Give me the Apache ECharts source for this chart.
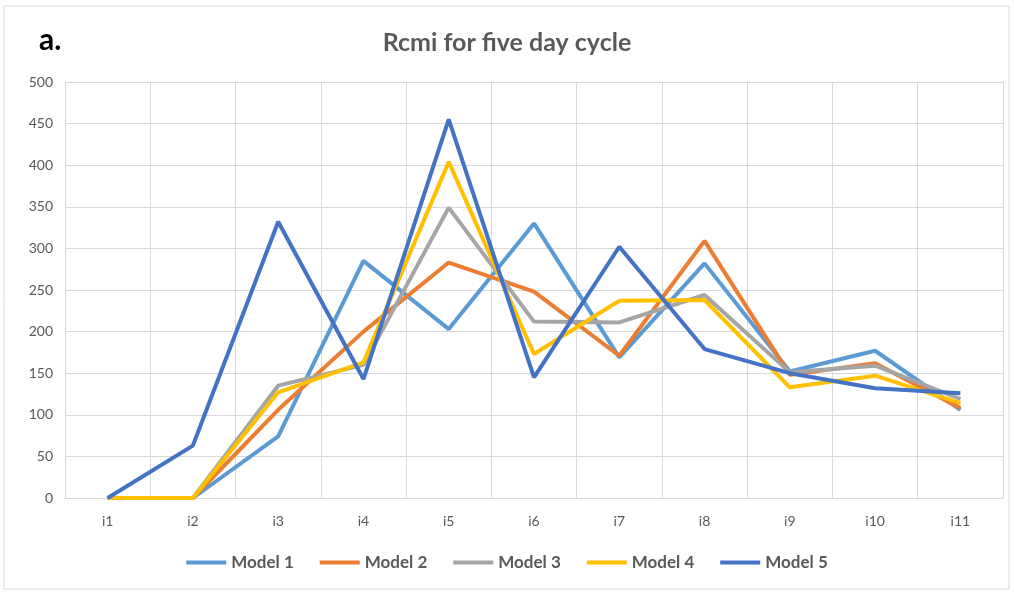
<!DOCTYPE html>
<html>
<head>
<meta charset="utf-8">
<script src="https://cdn.jsdelivr.net/npm/echarts@6/dist/echarts.min.js"></script>
<style>
  html, body { margin: 0; padding: 0; background: #fff; }
  #main { width: 1014px; height: 594px; }
</style>
</head>
<body>
<div id="main"></div>
<script>
// values
var categories = ['i1', 'i2', 'i3', 'i4', 'i5', 'i6', 'i7', 'i8', 'i9', 'i10', 'i11'];
var model1 = [0, 0, 74, 285, 203, 330, 169, 282, 152, 177, 106];
var model2 = [0, 0, 106, 200, 283, 248, 171, 309, 148, 162, 108];
var model3 = [0, 0, 135, 160, 349, 212, 211, 244, 151, 159, 119];
var model4 = [0, 0, 127, 163, 404, 173, 237, 238, 133, 147, 114];
var model5 = [0, 63, 332, 143, 455, 145, 302, 179, 150, 132, 126];

var names = ['Model 1', 'Model 2', 'Model 3', 'Model 4', 'Model 5'];
var colors = ['#5B9BD5', '#ED7D31', '#A5A5A5', '#FFC000', '#4472C4'];
var values = [model1, model2, model3, model4, model5];

var myChart = echarts.init(document.getElementById('main'));

var series = names.map(function (n, i) {
    return {
        name: n,
        type: 'line',
        data: values[i],
        symbol: 'none',
        lineStyle: { width: 4, color: colors[i] },
        itemStyle: { color: colors[i] }
    };
});

var option = {
    animation: false,
    backgroundColor: '#fff',
    title: [{
        text: 'Rcmi for five day cycle',
        left: 'center',
        top: 25,
        textStyle: { fontFamily: 'Lato', fontWeight: 'bold', fontSize: 25, color: '#595959' }
    }, {
        text: 'a.',
        left: 34,
        top: 20,
        textStyle: { fontFamily: 'Lato', fontWeight: 'bold', fontSize: 30, color: '#000' }
    }],
    legend: {
        bottom: 18,
        left: 'center',
        itemWidth: 40,
        itemHeight: 4,
        itemGap: 26,
        icon: 'rect',
        textStyle: { fontFamily: 'Lato', fontWeight: 'bold', fontSize: 17, color: '#595959' },
        data: names
    },
    grid: { left: 65, right: 11, top: 82, bottom: 96 },
    xAxis: {
        type: 'category',
        data: categories,
        boundaryGap: true,
        axisLine: { lineStyle: { color: '#d9d9d9', width: 1 } },
        axisTick: { show: false },
        axisLabel: { color: '#595959', fontFamily: 'Lato', fontSize: 14, margin: 16 },
        splitLine: { show: true, interval: 0, lineStyle: { color: '#d9d9d9' } }
    },
    yAxis: {
        type: 'value',
        min: 0,
        max: 500,
        interval: 50,
        axisLine: { show: false },
        axisTick: { show: false },
        axisLabel: { color: '#595959', fontFamily: 'Lato', fontSize: 14, margin: 12 },
        splitLine: { lineStyle: { color: '#d9d9d9' } }
    },
    graphic: [{
        type: 'rect',
        shape: { x: 4, y: 6, width: 1005, height: 583 },
        style: { fill: 'none', stroke: '#d9d9d9', lineWidth: 1 },
        silent: true
    }],
    series: series
};
myChart.setOption(option);
</script>
</body>
</html>
